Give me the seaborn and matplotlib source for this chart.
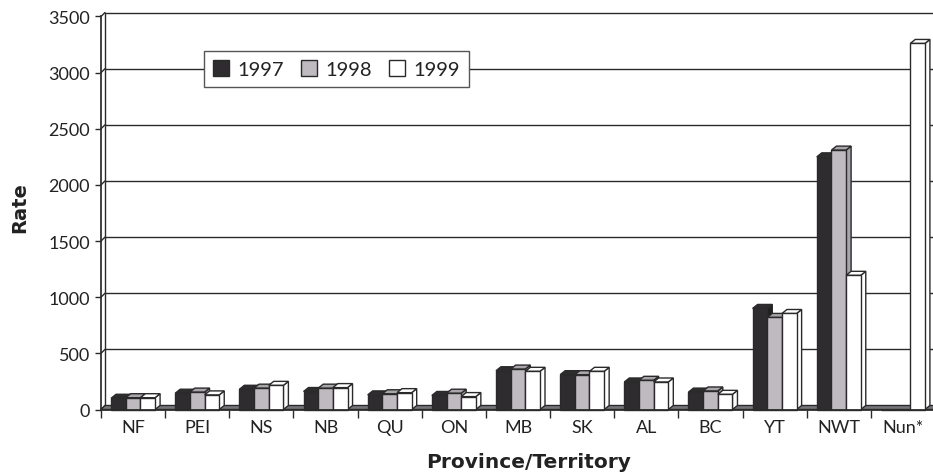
# plot.py
import pandas as pd
import matplotlib.pyplot as plt
from matplotlib.patches import Polygon
import seaborn as sns

# ============ DATA =============
provinces = ['NF', 'PEI', 'NS', 'NB', 'QU', 'ON', 'MB', 'SK', 'AL', 'BC', 'YT', 'NWT', 'Nun*']
rate_1997 = [100, 145, 180, 160, 130, 125, 345, 310, 245, 155, 900, 2250, 0]
rate_1998 = [105, 155, 190, 190, 140, 145, 360, 310, 260, 165, 820, 2310, 0]
rate_1999 = [105, 130, 215, 195, 150, 115, 340, 340, 245, 135, 855, 1195, 3260]
y_ticks = [0, 500, 1000, 1500, 2000, 2500, 3000, 3500]
# ===============================

W, H = 933, 477
LEFT, RIGHT, BOTTOM, TOP = 101, 935, 410.5, 17.5
LINE = '#2a2a2a'
colors = ['#2e2c2e', '#bfb9c0', '#ffffff']
side_colors = ['#222022', '#a9a5aa', '#ffffff']
top_colors = ['#2e2c2e', '#a9a5aa', '#ffffff']

sns.set_theme(style='white')
plt.rcParams['font.family'] = ['Lato', 'DejaVu Sans']

df = pd.DataFrame({'Province': provinces, '1997': rate_1997, '1998': rate_1998, '1999': rate_1999})
long = df.melt(id_vars='Province', var_name='Year', value_name='Rate')

fig = plt.figure(figsize=(W / 100, H / 100), dpi=100)
ax = fig.add_axes([LEFT / W, 1 - BOTTOM / H, (RIGHT - LEFT) / W, (BOTTOM - TOP) / H])
sns.barplot(data=long, x='Province', y='Rate', hue='Year', palette=colors,
            width=44 / 64.15, gap=0, edgecolor=LINE, linewidth=1, saturation=1, ax=ax, zorder=5)
ax.set_xlim(-0.5, 12.5)
ax.set_ylim(0, 3500)

# depth of the fake 3D effect, about 4 pixels each way
dx = 4 / 64.15
dy = 4 * 3500 / (BOTTOM - TOP)
bar_dx = 5 / 64.15

# back wall gridlines and the little connectors from the front ticks
for t in y_ticks:
    ax.plot([-0.5 + dx, 12.5 + dx], [t + dy, t + dy], color=LINE, lw=1, clip_on=False, zorder=1)
    ax.plot([-0.5, -0.5 + dx], [t, t + dy], color=LINE, lw=1, clip_on=False, zorder=1)
ax.plot([-0.5 + dx, -0.5 + dx], [dy, 3500 + dy], color=LINE, lw=1, clip_on=False, zorder=1)

# floor
ax.add_patch(Polygon([(-0.5, 0), (12.5, 0), (12.5 + dx, dy), (-0.5 + dx, dy)],
                     facecolor='#77757a', edgecolor=LINE, lw=1, clip_on=False, zorder=2))

# side and top faces of the bars, painted left to right so each bar hides the last side
z = 5
bars = []
for i, cont in enumerate(ax.containers):
    for b in cont:
        bars.append((b, i))
bars.sort(key=lambda item: item[0].get_x())
for b, i in bars:
    x0, w, h = b.get_x(), b.get_width(), b.get_height()
    b.set_zorder(z + 0.2)
    b.set_clip_on(False)
    if h > 0:
        ax.add_patch(Polygon([(x0 + w, 0), (x0 + w + bar_dx, dy), (x0 + w + bar_dx, h + dy), (x0 + w, h)],
                             facecolor=side_colors[i], edgecolor=LINE, lw=1, clip_on=False, zorder=z))
        ax.add_patch(Polygon([(x0, h), (x0 + bar_dx, h + dy), (x0 + w + bar_dx, h + dy), (x0 + w, h)],
                             facecolor=top_colors[i], edgecolor=LINE, lw=1, clip_on=False, zorder=z))
    z += 1

# axes
sns.despine(ax=ax, top=True, right=True)
ax.spines['left'].set_color(LINE)
ax.spines['bottom'].set_color(LINE)
ax.spines['left'].set_zorder(60)
ax.spines['bottom'].set_zorder(60)
ax.set_yticks(y_ticks)
ax.set_xticks([n - 0.5 for n in range(len(provinces) + 1)], minor=True)
ax.tick_params(axis='x', which='minor', bottom=True, length=6, width=1, color=LINE)
ax.tick_params(axis='x', which='major', bottom=False, length=0, pad=7, labelsize=13, labelcolor='#222222')
ax.tick_params(axis='y', left=True, length=4, width=1, color=LINE, pad=4, labelsize=13, labelcolor='#222222')
ax.set_xlabel('Province/Territory', fontsize=14.5, fontweight='bold', family='DejaVu Sans', color='#222222')
ax.xaxis.set_label_coords(528.5 / W, 1 - 463 / H, transform=fig.transFigure)
ax.xaxis.label.set_verticalalignment('center')
ax.set_ylabel('Rate', fontsize=14, fontweight='bold', family='DejaVu Sans', color='#222222')
ax.yaxis.set_label_coords(20 / W, 1 - 208 / H, transform=fig.transFigure)
ax.yaxis.label.set_verticalalignment('center')

# legend
handles, labels = ax.get_legend_handles_labels()
leg = ax.legend(handles, labels, ncol=3, loc='center', fancybox=False, framealpha=1, facecolor='white',
                edgecolor='#555555', fontsize=14.5, handlelength=0.82, handleheight=0.82, handletextpad=0.42,
                columnspacing=0.82, borderpad=0.45,
                bbox_to_anchor=(336.5 / W, 1 - 70 / H), bbox_transform=fig.transFigure)
leg.set_zorder(100)
leg.get_frame().set_linewidth(1)
for t in leg.get_texts():
    t.set_color('#222222')

fig.savefig('out.png', dpi=100)
